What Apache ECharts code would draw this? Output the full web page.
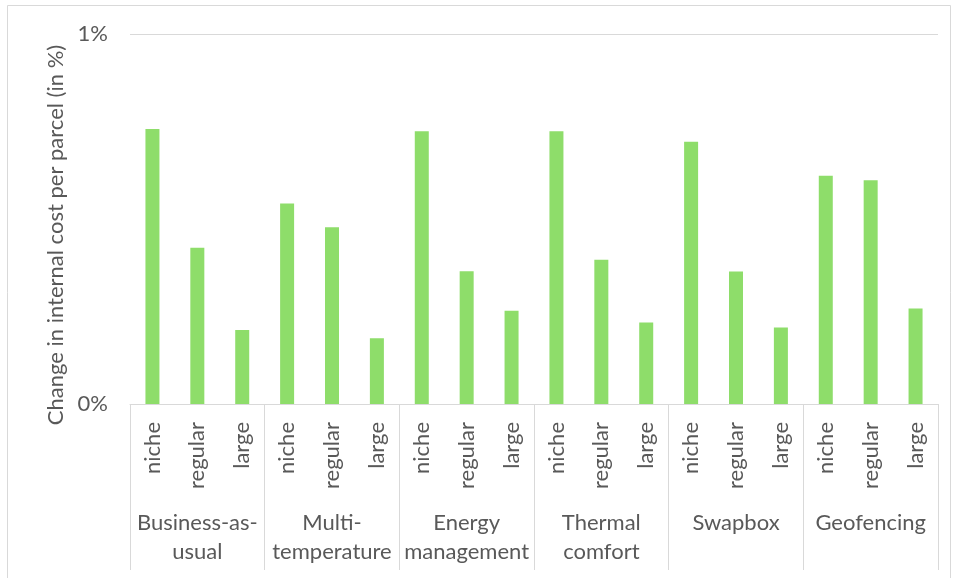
<!DOCTYPE html>
<html>
<head>
<meta charset="utf-8">
<script src="https://cdn.jsdelivr.net/npm/echarts@6/dist/echarts.min.js"></script>
<style>
  html, body { margin: 0; padding: 0; background: #ffffff; }
  #chart { width: 956px; height: 578px; }
</style>
</head>
<body>
<div id="chart"></div>
<script>
// Scenario groups (outer axis level) and container sizes (inner level)
const groups = ['Business-as-\nusual', 'Multi-\ntemperature', 'Energy\nmanagement', 'Thermal\ncomfort', 'Swapbox', 'Geofencing'];
const sizes = ['niche', 'regular', 'large'];

// Change in internal cost per parcel, in percent, per scenario: [niche, regular, large]
const businessAsUsual = [0.743, 0.422, 0.200];
const multiTemperature = [0.542, 0.478, 0.178];
const energyManagement = [0.737, 0.359, 0.252];
const thermalComfort = [0.737, 0.390, 0.220];
const swapbox = [0.709, 0.358, 0.207];
const geofencing = [0.617, 0.605, 0.258];

const yTicks = { min: 0, max: 1, interval: 1 };

const scenarioValues = [businessAsUsual, multiTemperature, energyManagement, thermalComfort, swapbox, geofencing];
const innerCategories = [];
const values = [];
scenarioValues.forEach(function (vals) {
  sizes.forEach(function (s, i) {
    innerCategories.push(s);
    values.push(vals[i]);
  });
});

const textColor = '#595959';
const lineColor = '#d9d9d9';
const font = 'Lato';
const fontSize = 22;

const chart = echarts.init(document.getElementById('chart'), null, { renderer: 'canvas' });
chart.setOption({
  animation: false,
  backgroundColor: '#ffffff',
  graphic: [{
    type: 'rect',
    shape: { x: 7.5, y: 5.5, width: 943, height: 620 },
    style: { fill: 'none', stroke: lineColor, lineWidth: 1 },
    silent: true,
    z: -10
  }],
  grid: { left: 130, right: 18, top: 34, bottom: 174 },
  xAxis: [{
    type: 'category',
    data: innerCategories,
    position: 'bottom',
    axisLine: { show: true, lineStyle: { color: lineColor, width: 1 } },
    axisTick: { show: false },
    axisLabel: {
      interval: 0, rotate: 90, margin: 18,
      fontSize: fontSize, color: textColor, fontFamily: font
    },
    splitLine: { show: false }
  }, {
    type: 'category',
    data: groups,
    position: 'bottom',
    axisLine: { show: false },
    axisTick: { show: true, interval: 0, length: 166, lineStyle: { color: lineColor, width: 1 } },
    axisLabel: {
      interval: 0, margin: 104, fontSize: fontSize, lineHeight: 29,
      color: textColor, fontFamily: font
    },
    splitLine: { show: false }
  }],
  yAxis: {
    type: 'value',
    min: yTicks.min, max: yTicks.max, interval: yTicks.interval,
    name: 'Change in internal cost per parcel (in %)',
    nameLocation: 'middle',
    nameGap: 62,
    nameTextStyle: { fontSize: fontSize, color: textColor, fontFamily: font, padding: [0, 32, 0, 0] },
    axisLine: { show: false },
    axisTick: { show: false },
    axisLabel: {
      formatter: '{value}%', margin: 22,
      fontSize: fontSize, color: textColor, fontFamily: font
    },
    splitLine: { show: true, lineStyle: { color: lineColor, width: 1 } }
  },
  series: [{
    type: 'bar',
    xAxisIndex: 0,
    data: values,
    barWidth: 14,
    itemStyle: { color: '#8edd6a' }
  }]
});
</script>
</body>
</html>
